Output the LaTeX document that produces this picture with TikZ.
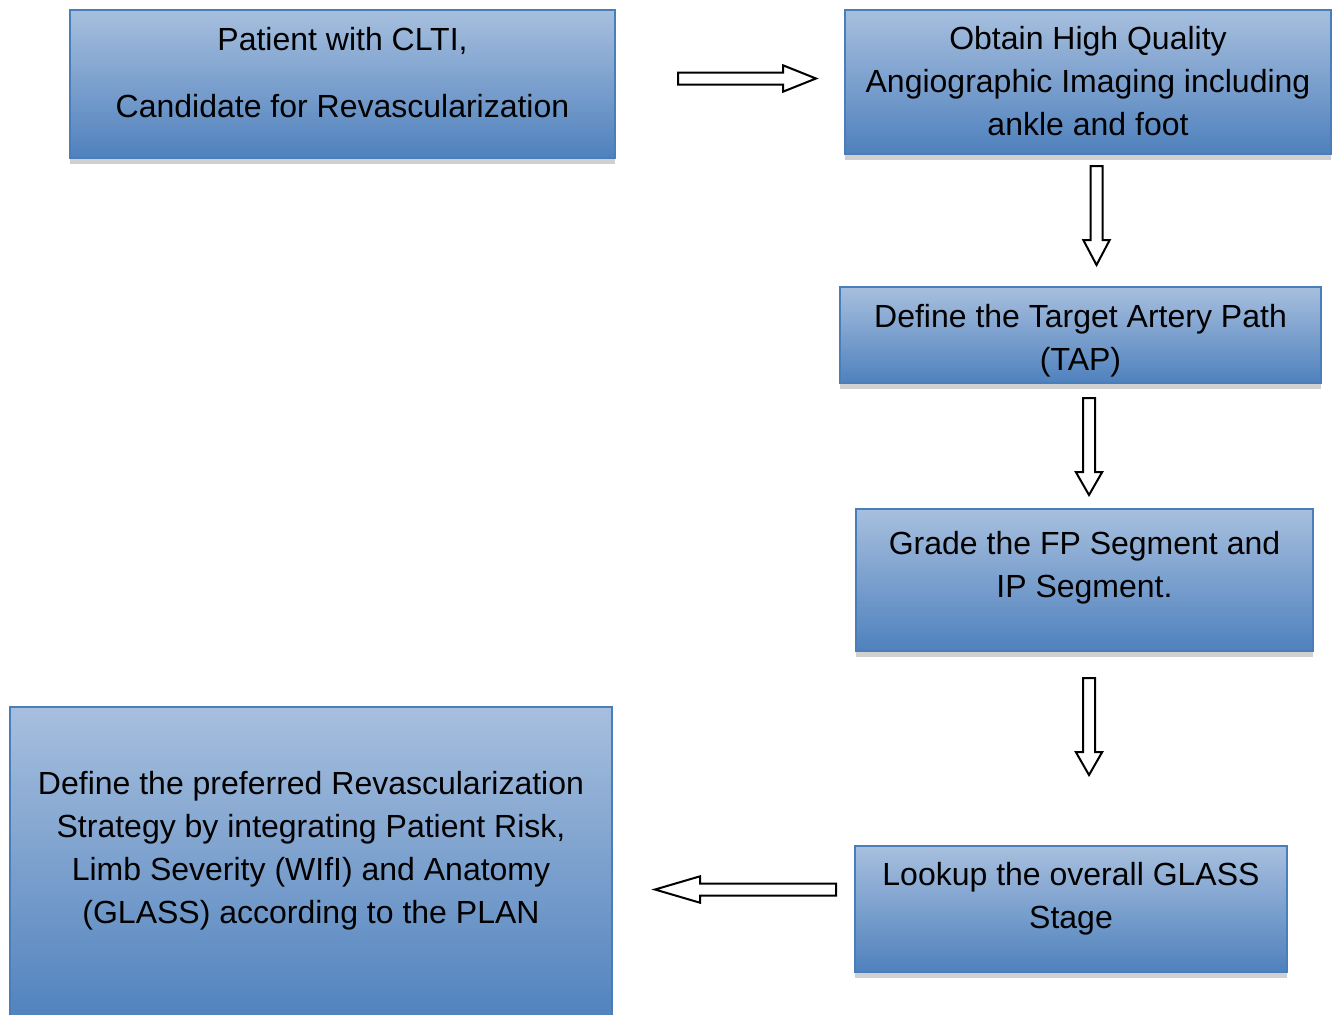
\documentclass[tikz,border=0pt]{standalone}
\usepackage{fontspec}
\setmainfont{Liberation Sans}
\usepackage{tikz}
\usetikzlibrary{calc, shadows}
\definecolor{boxtop}{RGB}{167, 191, 222}
\definecolor{boxbot}{RGB}{79, 129, 189}
\definecolor{boxline}{RGB}{74, 126, 187}
\definecolor{shadowgrey}{RGB}{208, 208, 208}

\begin{document}
\begin{tikzpicture}[x=0.5pt, y=-0.5pt,
    stepbox/.style={rectangle, anchor=north west, inner sep=0pt, draw=boxline, line width=1pt,
      top color=boxtop, bottom color=boxbot,
      drop shadow={shadow xshift=0pt, shadow yshift=-3pt, fill=shadowgrey, opacity=1}},
    boxtext/.style={anchor=base, align=center, inner sep=0pt, font=\fontsize{16pt}{21.5pt}\selectfont},
    headlen/.store in=\headlen, headlen=12pt,
    % hollow block arrow between two points
    blockarrow/.style={draw=black, fill=white, line width=1pt, line join=miter,
      to path={($(\tikztostart)!3pt!90:(\tikztotarget)$)
        -- ($(\tikztotarget)!\headlen!(\tikztostart)!3pt!90:(\tikztotarget)$)
        -- ($(\tikztotarget)!\headlen!(\tikztostart)!6.6pt!90:(\tikztotarget)$)
        -- (\tikztotarget)
        -- ($(\tikztotarget)!\headlen!(\tikztostart)!6.6pt!-90:(\tikztotarget)$)
        -- ($(\tikztotarget)!\headlen!(\tikztostart)!3pt!-90:(\tikztotarget)$)
        -- ($(\tikztostart)!3pt!-90:(\tikztotarget)$) -- cycle}}
  ]
  \useasboundingbox (0,0) rectangle (1332,1014);

  \node[stepbox, minimum width=272.5pt, minimum height=74pt] (patient) at (69,9) {};
  \node[stepbox, minimum width=243pt, minimum height=72pt] (obtain) at (844,9) {};
  \node[stepbox, minimum width=240.5pt, minimum height=48pt] (tap) at (839,286) {};
  \node[stepbox, minimum width=228.5pt, minimum height=71pt] (grade) at (855,508) {};
  \node[stepbox, minimum width=216pt, minimum height=63pt] (lookup) at (854,845) {};
  \node[stepbox, minimum width=301pt, minimum height=160pt] (plan) at (9,706) {};

  % base = last line
  \node[boxtext] (patient-txt) at ($(patient.north)+(0,108)$) {Patient with CLTI,\\[12pt]Candidate for Revascularization};
  \node[boxtext] (obtain-txt) at ($(obtain.north)+(0,126)$) {Obtain High Quality\\Angiographic Imaging including\\ankle and foot};
  \node[boxtext] (tap-txt) at ($(tap.north)+(0,84)$) {Define the Target Artery Path\\(TAP)};
  \node[boxtext] (grade-txt) at ($(grade.north)+(0,89)$) {Grade the FP Segment and\\IP Segment.};
  \node[boxtext] (lookup-txt) at ($(lookup.north)+(0,83)$) {Lookup the overall GLASS\\Stage};
  \node[boxtext] (plan-txt) at ($(plan.north)+(0,217)$) {Define the preferred Revascularization\\Strategy by integrating Patient Risk,\\Limb Severity (WIfI) and Anatomy\\(GLASS) according to the PLAN};

  \coordinate (a1s) at (678,78.5);
  \coordinate (a1e) at (816,78.5);
  \coordinate (a2s) at (1096.5,166);
  \coordinate (a2e) at (1096.5,265);
  \coordinate (a3s) at (1089,398);
  \coordinate (a3e) at (1089,495);
  \coordinate (a4s) at (1089,678);
  \coordinate (a4e) at (1089,775);
  \coordinate (a5s) at (836,889.5);
  \coordinate (a5e) at (655,889.5);

  \draw[blockarrow, headlen=16.5pt] (a1s) to (a1e);
  \draw[blockarrow, headlen=12.5pt] (a2s) to (a2e);
  \draw[blockarrow, headlen=11.5pt] (a3s) to (a3e);
  \draw[blockarrow, headlen=11.5pt] (a4s) to (a4e);
  \draw[blockarrow, headlen=22.5pt] (a5s) to (a5e);
\end{tikzpicture}
\end{document}
